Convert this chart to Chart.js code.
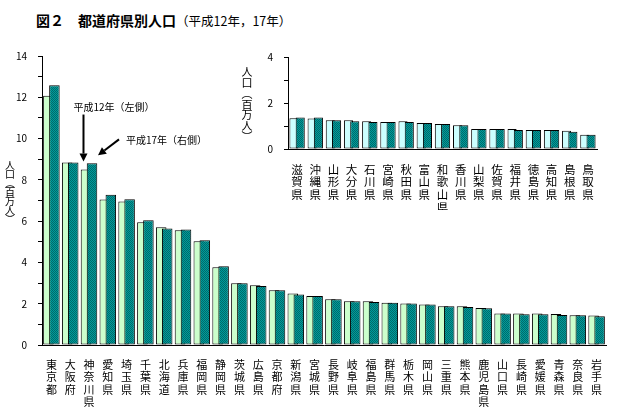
<!DOCTYPE html>
<html lang="ja">
<head>
<meta charset="utf-8">
<script src="https://cdn.jsdelivr.net/npm/chart.js@4/dist/chart.umd.min.js"></script>
<style>
  body { margin: 0; background: #fff; }
  #wrap { position: relative; width: 644px; height: 419px; font-family: "Noto Sans CJK JP", sans-serif; }
  #title { position: absolute; left: 36px; top: 11px; font-size: 14px; line-height: 18px; white-space: nowrap; }
  #title span { font-size: 12.5px; }
  #main { position: absolute; left: 0; top: 0; }
  #inset { position: absolute; left: 230px; top: 40px; }
</style>
</head>
<body>
<div id="wrap">
  <div id="title"><b>図２　都道府県別人口</b><span>（平成12年，17年）</span></div>
  <canvas id="main" width="644" height="419"></canvas>
  <canvas id="inset" width="380" height="170"></canvas>
</div>
<script>
// population in millions
const mainNames = ['東京都', '大阪府', '神奈川県', '愛知県', '埼玉県', '千葉県', '北海道', '兵庫県', '福岡県', '静岡県',
  '茨城県', '広島県', '京都府', '新潟県', '宮城県', '長野県', '岐阜県', '福島県', '群馬県', '栃木県',
  '岡山県', '三重県', '熊本県', '鹿児島県', '山口県', '長崎県', '愛媛県', '青森県', '奈良県', '岩手県']
const mainPop2000 = [12.08, 8.84, 8.50, 7.05, 6.95, 5.95, 5.70, 5.56, 5.03, 3.77,
  2.99, 2.90, 2.65, 2.50, 2.37, 2.22, 2.12, 2.12, 2.05, 2.01,
  1.96, 1.88, 1.88, 1.79, 1.53, 1.53, 1.52, 1.50, 1.44, 1.43]
const mainPop2005 = [12.58, 8.84, 8.80, 7.28, 7.06, 6.04, 5.64, 5.60, 5.07, 3.81,
  2.99, 2.86, 2.65, 2.45, 2.37, 2.22, 2.12, 2.08, 2.05, 2.01,
  1.96, 1.88, 1.84, 1.78, 1.53, 1.49, 1.49, 1.45, 1.44, 1.39]

const insetNames = ['滋賀県', '沖縄県', '山形県', '大分県', '石川県', '宮崎県', '秋田県', '富山県', '和歌山県',
  '香川県', '山梨県', '佐賀県', '福井県', '徳島県', '高知県', '島根県', '鳥取県']
const insetPop2000 = [1.34, 1.33, 1.25, 1.25, 1.21, 1.17, 1.21, 1.13, 1.09, 1.03, 0.87, 0.87, 0.87, 0.83, 0.83, 0.79, 0.62]
const insetPop2005 = [1.37, 1.37, 1.25, 1.21, 1.17, 1.17, 1.17, 1.13, 1.09, 1.03, 0.87, 0.87, 0.83, 0.83, 0.83, 0.75, 0.62]

const mainTicks = [0, 2, 4, 6, 8, 10, 12, 14]
const insetTicks = [0, 2, 4]
const yTitle = '人口︵百万人︶'

Chart.defaults.font.family = '"Noto Sans CJK JP", "Noto Sans", sans-serif'
Chart.defaults.color = '#000'

// checkered teal fill like the original
function tealPattern() {
  const c = document.createElement('canvas')
  c.width = 2
  c.height = 2
  const g = c.getContext('2d')
  g.fillStyle = '#009c9c'
  g.fillRect(0, 0, 2, 2)
  g.fillStyle = '#006a6a'
  g.fillRect(0, 0, 1, 1)
  g.fillRect(1, 1, 1, 1)
  return g.createPattern(c, 'repeat')
}
const teal = tealPattern()

// draw first dataset first so the right bar overlaps the left one
const forwardDraw = {
  id: 'forwardDraw',
  beforeDatasetsDraw(chart) {
    chart.getSortedVisibleDatasetMetas().forEach(m => m.controller.draw())
    return false
  }
}

const stackedTitle = {
  id: 'stackedTitle',
  afterDraw(chart, args, opts) {
    const ctx = chart.ctx
    ctx.save()
    ctx.font = opts.font
    ctx.fillStyle = '#000'
    ctx.textAlign = 'center'
    ctx.textBaseline = 'middle'
    Array.from(opts.text).forEach((ch, i) => ctx.fillText(ch, opts.x, opts.y + i * opts.step))
    ctx.restore()
  }
}

function drawArrow(ctx, x0, y0, x1, y1) {
  const a = Math.atan2(y1 - y0, x1 - x0)
  const head = 8, half = 4
  const bx = x1 - head * Math.cos(a), by = y1 - head * Math.sin(a)
  ctx.lineWidth = 2
  ctx.beginPath()
  ctx.moveTo(x0, y0)
  ctx.lineTo(bx, by)
  ctx.stroke()
  ctx.beginPath()
  ctx.moveTo(x1, y1)
  ctx.lineTo(bx + half * Math.sin(a), by - half * Math.cos(a))
  ctx.lineTo(bx - half * Math.sin(a), by + half * Math.cos(a))
  ctx.closePath()
  ctx.fill()
}

// arrows + notes pointing at the 神奈川県 pair
const arrows = {
  id: 'arrows',
  afterDraw(chart) {
    const ctx = chart.ctx
    const light = chart.getDatasetMeta(0).data[2]
    const dark = chart.getDatasetMeta(1).data[2]
    ctx.save()
    ctx.fillStyle = '#000'
    ctx.strokeStyle = '#000'
    ctx.font = '10px "Noto Sans CJK JP"'
    ctx.textBaseline = 'middle'

    const x1 = light.x - 2.5, tip1 = light.y - 8
    drawArrow(ctx, x1, tip1 - 47, x1, tip1)
    ctx.fillText('平成12年（左側）', x1 - 10, tip1 - 54)

    const tx = dark.x + 6, ty = dark.y - 8
    drawArrow(ctx, tx + 21, ty - 16, tx, ty)
    ctx.fillText('平成17年（右側）', tx + 28, ty - 15)
    ctx.restore()
  }
}

new Chart(document.getElementById('main'), {
  type: 'bar',
  data: {
    labels: mainNames.map(n => Array.from(n)),
    datasets: [
      {
        label: '平成12年',
        data: mainPop2000,
        backgroundColor: '#ccffcc',
        borderColor: '#000',
        borderWidth: 1,
        borderSkipped: false
      },
      {
        label: '平成17年',
        data: mainPop2005,
        backgroundColor: teal,
        borderColor: '#000',
        borderWidth: 1,
        borderSkipped: false
      }
    ]
  },
  options: {
    responsive: false,
    animation: false,
    layout: { padding: { top: 56, right: 38, left: 0, bottom: 0 } },
    datasets: { bar: { categoryPercentage: 0.64, barPercentage: 1.75 } },
    plugins: {
      legend: { display: false },
      tooltip: { enabled: false },
      stackedTitle: { text: yTitle, x: 10, y: 165, step: 9, font: '10px "Noto Sans CJK JP"' }
    },
    scales: {
      x: {
        grid: { display: false },
        border: { color: '#000', width: 1 },
        ticks: { font: { size: 11, lineHeight: 1.15 }, padding: 5, maxRotation: 0, autoSkip: false },
        afterFit(s) { s.height = 74 }
      },
      y: {
        min: 0,
        max: 14,
        ticks: {
          stepSize: 1,
          font: { size: 10 },
          padding: 11,
          callback: v => mainTicks.includes(v) ? v : ''
        },
        grid: { drawOnChartArea: false, tickLength: 4, color: '#000' },
        border: { color: '#000', width: 1 },
        afterFit(s) { s.width = 42 }
      }
    }
  },
  plugins: [forwardDraw, stackedTitle, arrows]
})

new Chart(document.getElementById('inset'), {
  type: 'bar',
  data: {
    labels: insetNames.map(n => Array.from(n)),
    datasets: [
      {
        label: '平成12年',
        data: insetPop2000,
        backgroundColor: '#ccffff',
        borderColor: '#000',
        borderWidth: 1,
        borderSkipped: false
      },
      {
        label: '平成17年',
        data: insetPop2005,
        backgroundColor: teal,
        borderColor: '#000',
        borderWidth: 1,
        borderSkipped: false
      }
    ]
  },
  options: {
    responsive: false,
    animation: false,
    layout: { padding: { top: 13, right: 13, left: 0, bottom: 0 } },
    datasets: { bar: { categoryPercentage: 0.69, barPercentage: 1.45 } },
    plugins: {
      legend: { display: false },
      tooltip: { enabled: false },
      stackedTitle: { text: yTitle, x: 17, y: 32, step: 10.8, font: '11px "Noto Sans CJK JP"' }
    },
    scales: {
      x: {
        grid: { display: false },
        border: { color: '#000', width: 1 },
        ticks: { font: { size: 11.5, lineHeight: 1.1 }, padding: 6, maxRotation: 0, autoSkip: false },
        afterFit(s) { s.height = 61 }
      },
      y: {
        min: 0,
        max: 4,
        ticks: {
          stepSize: 1,
          font: { size: 10 },
          padding: 11,
          callback: v => insetTicks.includes(v) ? v : ''
        },
        grid: { drawOnChartArea: false, tickLength: 4, color: '#000' },
        border: { color: '#000', width: 1 },
        afterFit(s) { s.width = 58 }
      }
    }
  },
  plugins: [forwardDraw, stackedTitle]
})
</script>
</body>
</html>
